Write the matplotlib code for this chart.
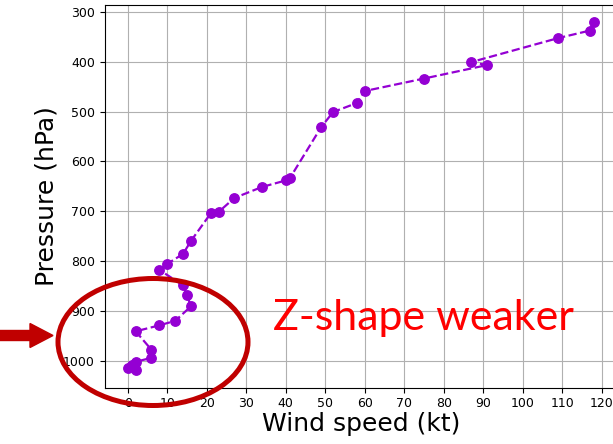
import matplotlib.pyplot as plt
from matplotlib.patches import Ellipse, FancyArrow

# wind profile: speed (kt) at each pressure level (hPa), surface first
wind_kt = [2, 0, 1, 2, 6, 6, 2, 8, 12, 16, 15, 14, 8, 10, 14, 16,
           21, 23, 27, 34, 40, 41, 49, 52, 58, 60, 75, 91, 87, 109, 117, 118]
pres_hpa = [1018, 1014, 1008, 1001, 993, 977, 940, 928, 919, 890, 868, 848, 817, 805, 785, 759,
            704, 701, 673, 651, 638, 634, 531, 501, 483, 459, 434, 407, 401, 353, 338, 321]

x_ticks = list(range(0, 130, 10))
y_ticks = list(range(300, 1100, 100))

W, H = 613, 444
fig = plt.figure(figsize=(W / 100, H / 100), dpi=100)
ax = fig.add_axes([104.5 / W, 56.3 / H, 512.5 / W, 383.0 / H])

ax.plot(wind_kt, pres_hpa, linestyle='--', marker='o', color='darkviolet',
        linewidth=1.6, markersize=6.8)
ax.invert_yaxis()
ax.set_xticks(x_ticks)
ax.set_yticks(y_ticks)
ax.tick_params(labelsize=9)
ax.grid(True)
ax.set_xlabel('Wind speed (kt)', fontsize=18, labelpad=1)
ax.set_ylabel('Pressure (hPa)', fontsize=18, labelpad=3)

# highlight the low-level part of the profile
red = '#C00000'
fig.patches.append(Ellipse((153 / W, 1 - 342 / H), 190 / W, 127 / H, fill=False,
                           edgecolor=red, linewidth=3.6, transform=fig.transFigure,
                           figure=fig, zorder=10))
fig.patches.append(FancyArrow(0, 1 - 335.5 / H, 53 / W, 0, width=10 / H,
                              head_width=24 / H, head_length=23 / W,
                              length_includes_head=True, color=red,
                              transform=fig.transFigure, figure=fig, zorder=10))
fig.text(273 / W, 1 - 318 / H, 'Z-shape weaker', color='red', fontsize=31,
         family='Lato', va='center', ha='left', zorder=10)

fig.savefig('out.png', dpi=100)
